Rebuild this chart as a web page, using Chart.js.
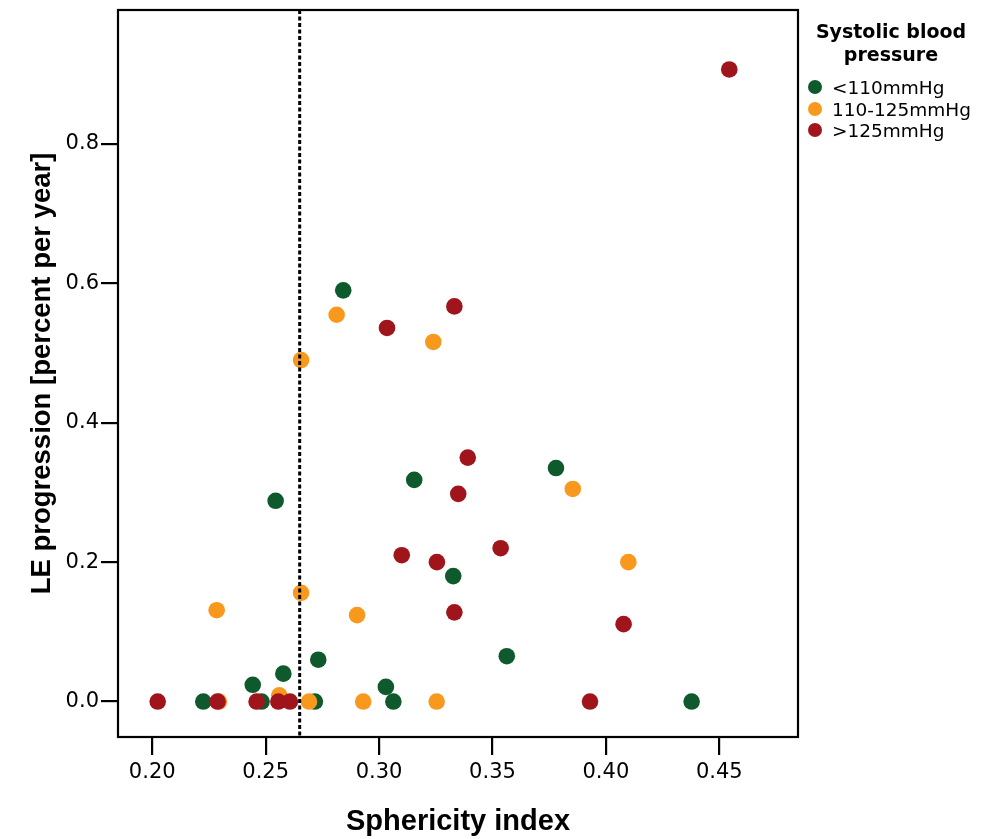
<!DOCTYPE html>
<html>
<head>
<meta charset="utf-8">
<script src="https://cdn.jsdelivr.net/npm/chart.js@4.4.1/dist/chart.umd.min.js"></script>
<style>
  html, body { margin: 0; padding: 0; background: #fff; }
  #wrap { position: relative; width: 988px; height: 839px; }
  #c { position: absolute; left: 0; top: 0; }
  #legend { position: absolute; left: 798px; top: 20px; width: 186px; font-family: "DejaVu Sans", sans-serif; color: #000; }
  #legend .ttl { text-align: center; font-weight: bold; font-size: 19px; line-height: 23px; }
  #legend .items { margin-top: 11px; margin-left: 10px; }
  #legend .row { height: 21.5px; line-height: 21.5px; font-size: 18.5px; white-space: nowrap; }
  #legend .dot { display: inline-block; width: 14px; height: 14px; border-radius: 50%; vertical-align: middle; margin-right: 10px; position: relative; top: -2px; }
</style>
</head>
<body>
<div id="wrap">
  <canvas id="c" width="988" height="839"></canvas>
  <div id="legend"></div>
</div>
<script>
// ---- data ----
const xTicks = [0.20, 0.25, 0.30, 0.35, 0.40, 0.45];
const yTicks = [0.0, 0.2, 0.4, 0.6, 0.8];
const groupNames = ['<110mmHg', '110-125mmHg', '>125mmHg'];
const legendTitle = ['Systolic blood', 'pressure'];
const xTitle = 'Sphericity index';
const yTitle = 'LE progression [percent per year]';
const cutoff = 0.265;

const lowX  = [0.2225, 0.2443, 0.2482, 0.2578, 0.2717, 0.2732, 0.3030, 0.3063, 0.4378, 0.2544, 0.2842, 0.3155, 0.3327, 0.3780, 0.3563];
const lowY  = [0.000,  0.024,  0.000,  0.040,  0.000,  0.060,  0.021,  0.000,  0.000,  0.288,  0.590,  0.318,  0.180,  0.335,  0.065];
const midX  = [0.2294, 0.2560, 0.2691, 0.2930, 0.3254, 0.2284, 0.2656, 0.2903, 0.2656, 0.2813, 0.3239, 0.3854, 0.4099];
const midY  = [0.000,  0.009,  0.000,  0.000,  0.000,  0.131,  0.156,  0.124,  0.490,  0.555,  0.516,  0.305,  0.200];
const highX = [0.2024, 0.2288, 0.2460, 0.2556, 0.2607, 0.3930, 0.4544, 0.3035, 0.3332, 0.3391, 0.3349, 0.3100, 0.3255, 0.3332, 0.3536, 0.4078];
const highY = [0.000,  0.000,  0.000,  0.000,  0.000,  0.000,  0.907,  0.536,  0.567,  0.350,  0.298,  0.210,  0.200,  0.128,  0.220,  0.111];

const colors = ['#0f5a2c', '#f8991e', '#a0141c'];

// ---- build ----
const pts = (xs, ys) => xs.map((x, i) => ({ x: x, y: ys[i] }));
const seriesX = [lowX, midX, highX];
const seriesY = [lowY, midY, highY];

const datasets = groupNames.map((name, i) => ({
  label: name,
  data: pts(seriesX[i], seriesY[i]),
  backgroundColor: colors[i],
  borderColor: colors[i],
  borderWidth: 0,
  pointRadius: 8.3,
  pointHoverRadius: 8.3,
  order: 3 - i
}));

const framePlugin = {
  id: 'frame',
  afterDatasetsDraw(chart) {
    const ctx = chart.ctx;
    const a = chart.chartArea;
    const xs = chart.scales.x;
    const px = xs.getPixelForValue(cutoff);
    ctx.save();
    ctx.strokeStyle = '#000';
    ctx.lineWidth = 3;
    ctx.setLineDash([4, 2.5]);
    ctx.beginPath();
    ctx.moveTo(px, a.top);
    ctx.lineTo(px, a.bottom);
    ctx.stroke();
    ctx.setLineDash([]);
    ctx.lineWidth = 2.2;
    ctx.strokeRect(a.left, a.top, a.right - a.left, a.bottom - a.top);
    ctx.restore();
  }
};

new Chart(document.getElementById('c'), {
  type: 'scatter',
  data: { datasets: datasets },
  plugins: [framePlugin],
  options: {
    responsive: false,
    animation: false,
    events: [],
    layout: { padding: { left: 0, right: 190, top: 10, bottom: 0 } },
    plugins: { legend: { display: false }, tooltip: { enabled: false } },
    scales: {
      x: {
        type: 'linear',
        min: 0.1849,
        max: 0.4847,
        afterBuildTicks: s => { s.ticks = xTicks.map(v => ({ value: v })); },
        afterFit: s => { s.height = 102; s.paddingLeft = 0; s.paddingRight = 0; },
        ticks: {
          color: '#000',
          font: { family: 'DejaVu Sans', size: 21 },
          padding: 5,
          maxRotation: 0,
          callback: v => v.toFixed(2)
        },
        grid: { drawOnChartArea: false, drawTicks: true, tickLength: 18, color: '#000', lineWidth: 2.2 },
        border: { display: false },
        title: {
          display: true,
          text: xTitle,
          color: '#000',
          font: { family: 'Liberation Sans', size: 29, weight: 'bold' },
          padding: { top: 0, bottom: 0 }
        }
      },
      y: {
        type: 'linear',
        min: -0.0509,
        max: 0.9923,
        afterBuildTicks: s => { s.ticks = yTicks.map(v => ({ value: v })); },
        afterFit: s => { s.width = 118; s.paddingTop = 0; s.paddingBottom = 0; },
        ticks: {
          color: '#000',
          font: { family: 'DejaVu Sans', size: 21 },
          padding: 2,
          callback: v => v.toFixed(1)
        },
        grid: { drawOnChartArea: false, drawTicks: true, tickLength: 17, color: '#000', lineWidth: 2.2 },
        border: { display: false },
        title: {
          display: true,
          text: yTitle,
          color: '#000',
          font: { family: 'Liberation Sans', size: 27.5, weight: 'bold' },
          padding: { top: 26, bottom: 0 }
        }
      }
    }
  }
});

// ---- legend (HTML text) ----
const lg = document.getElementById('legend');
let html = '<div class="ttl">' + legendTitle.join('<br>') + '</div><div class="items">';
groupNames.forEach((n, i) => {
  const safe = n.replace(/</g, '&lt;').replace(/>/g, '&gt;');
  html += '<div class="row"><span class="dot" style="background:' + colors[i] + '"></span>' + safe + '</div>';
});
html += '</div>';
lg.innerHTML = html;
</script>
</body>
</html>
